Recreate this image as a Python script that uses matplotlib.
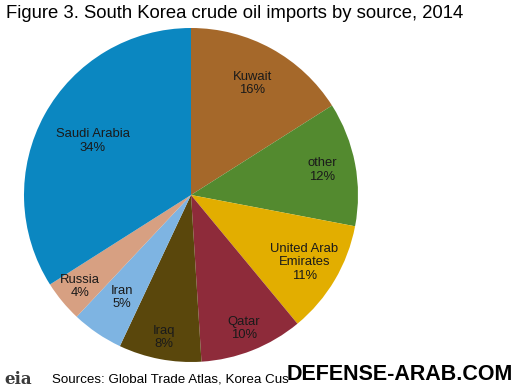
import numpy as np
import matplotlib.pyplot as plt

plt.rcParams['font.family'] = ['Liberation Sans', 'DejaVu Sans']

# Данные
sources = ['Kuwait', 'other', 'United Arab\nEmirates', 'Qatar', 'Iraq', 'Iran', 'Russia', 'Saudi Arabia']
shares = [16, 12, 11, 10, 8, 5, 4, 34]
colors = ['#A5682A', '#538A2F', '#E2AE00', '#8E2B3A', '#5A470C', '#7EB4E2', '#D7A082', '#0B87C1']
label_dist = [0.76, 0.80, 0.79, 0.86, 0.87, 0.74, 0.86, 0.67]

W, H = 525, 389
fig = plt.figure(figsize=(W / 100, H / 100), dpi=100)

# Пирог: центр (191,195), радиус 167 пикселей
cx, cy, r = 191, 195, 167
ax = fig.add_axes([(cx - r) / W, (H - cy - r) / H, 2 * r / W, 2 * r / H])
wedges, _ = ax.pie(shares, colors=colors, startangle=90, counterclock=False,
                   wedgeprops=dict(linewidth=0))
ax.set_xlim(-1, 1)
ax.set_ylim(-1, 1)
ax.set_aspect('equal')
ax.axis('off')

# Подписи секторов
for w, name, val, d in zip(wedges, sources, shares, label_dist):
    ang = np.deg2rad((w.theta1 + w.theta2) / 2)
    ax.text(d * np.cos(ang), d * np.sin(ang), f"{name}\n{val}%",
            ha='center', va='center', fontsize=9.4, color='#1a1a1a', linespacing=1.15)

fig.text(6 / W, 1 - 14 / H, "Figure 3. South Korea crude oil imports by source, 2014",
         fontsize=13.3, va='center', ha='left', color='black')
fig.text(52 / W, 1 - 380 / H, "Sources: Global Trade Atlas, Korea Cus",
         fontsize=9.6, va='center', ha='left', color='black')
fig.text(287 / W, 1 - 374 / H, "DEFENSE-ARAB.COM",
         fontsize=15.5, fontweight='bold', va='center', ha='left', color='black')
fig.text(4 / W, 1 - 379 / H, "eia", family='DejaVu Serif',
         fontsize=12, fontweight='bold', va='center', ha='left', color='#3b3b3b')

fig.savefig('out.png', dpi=100)
